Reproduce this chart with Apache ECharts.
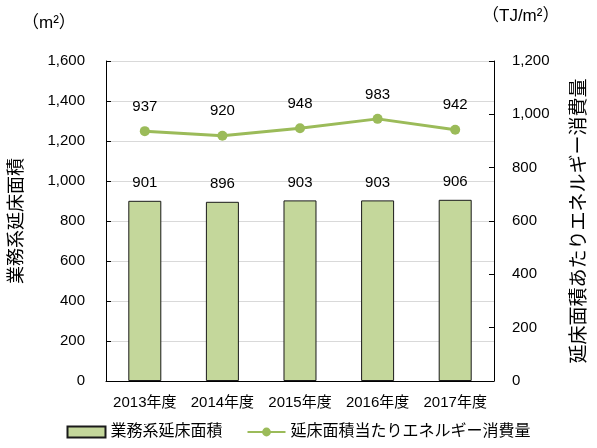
<!DOCTYPE html>
<html>
<head>
<meta charset="utf-8">
<script src="https://cdn.jsdelivr.net/npm/echarts@6/dist/echarts.min.js"></script>
<style>
  html, body { margin: 0; padding: 0; background: #fff; }
  #chart { width: 597px; height: 448px; }
</style>
</head>
<body>
<div id="chart"></div>
<script>
// Fiscal years on the category axis
const years = ['2013年度', '2014年度', '2015年度', '2016年度', '2017年度'];
// Commercial floor area (left axis, m²)
const floorArea = [901, 896, 903, 903, 906];
// Energy consumption per floor area (right axis, TJ/m²)
const energyPerArea = [937, 920, 948, 983, 942];

// Latin digits from Liberation Sans, Japanese glyphs from Noto CJK
const FONT = '"Liberation Sans", "Noto Sans CJK JP", sans-serif';
const chart = echarts.init(document.getElementById('chart'));

chart.setOption({
  animation: false,
  textStyle: { fontFamily: FONT, color: '#000' },
  grid: { left: 100, right: 96, top: 61, bottom: 67, containLabel: false },
  legend: {
    bottom: 3,
    left: 'center',
    itemGap: 24,
    itemWidth: 38,
    itemHeight: 11,
    textStyle: { fontSize: 16, fontFamily: FONT, color: '#000' },
    data: [
      { name: '業務系延床面積', icon: 'rect' },
      { name: '延床面積当たりエネルギー消費量' }
    ]
  },
  graphic: [
    { type: 'text', left: 22, top: 15, style: { text: '（m²）', fontSize: 17, fontFamily: FONT, fill: '#000' } },
    { type: 'text', left: 482, top: 8, style: { text: '（TJ/m²）', fontSize: 17, fontFamily: FONT, fill: '#000' } }
  ],
  xAxis: {
    type: 'category',
    data: years,
    axisLine: { lineStyle: { color: '#000' } },
    axisTick: { inside: true, alignWithLabel: false, lineStyle: { color: '#000' } },
    axisLabel: { interval: 0, fontSize: 15, color: '#000', margin: 14, fontFamily: FONT }
  },
  yAxis: [
    {
      type: 'value', min: 0, max: 1600, interval: 200,
      name: '業務系延床面積',
      nameLocation: 'middle', nameRotate: 90, nameGap: 80,
      nameTextStyle: { fontSize: 18, color: '#000', fontFamily: FONT },
      axisLine: { show: true, lineStyle: { color: '#000' } },
      axisTick: { show: true, inside: true, lineStyle: { color: '#000' } },
      axisLabel: { fontSize: 15, color: '#000', margin: 21, fontFamily: FONT,
        formatter: v => v.toLocaleString('en-US') },
      splitLine: { show: true, lineStyle: { color: '#d9d9d9' } }
    },
    {
      type: 'value', min: 0, max: 1200, interval: 200,
      name: '延床面積あたりエネルギー消費量',
      nameLocation: 'middle', nameRotate: 90, nameGap: 76,
      nameTextStyle: { fontSize: 19, color: '#000', fontFamily: FONT },
      axisLine: { show: true, lineStyle: { color: '#000' } },
      axisTick: { show: true, inside: true, lineStyle: { color: '#000' } },
      axisLabel: { fontSize: 15, color: '#000', margin: 18, fontFamily: FONT,
        formatter: v => v.toLocaleString('en-US') },
      splitLine: { show: false }
    }
  ],
  series: [
    {
      name: '業務系延床面積',
      type: 'bar',
      yAxisIndex: 0,
      data: floorArea,
      barWidth: 33,
      itemStyle: { color: '#c4d79b', borderColor: '#1a1a1a', borderWidth: 1 },
      label: { show: true, position: 'top', distance: 10, fontSize: 15, color: '#000', fontFamily: FONT }
    },
    {
      name: '延床面積当たりエネルギー消費量',
      type: 'line',
      yAxisIndex: 1,
      data: energyPerArea,
      symbol: 'circle',
      symbolSize: 10,
      lineStyle: { color: '#9bbb59', width: 3 },
      itemStyle: { color: '#9bbb59' },
      label: { show: true, position: 'top', distance: 12, fontSize: 15, color: '#000', fontFamily: FONT }
    }
  ]
});
</script>
</body>
</html>
